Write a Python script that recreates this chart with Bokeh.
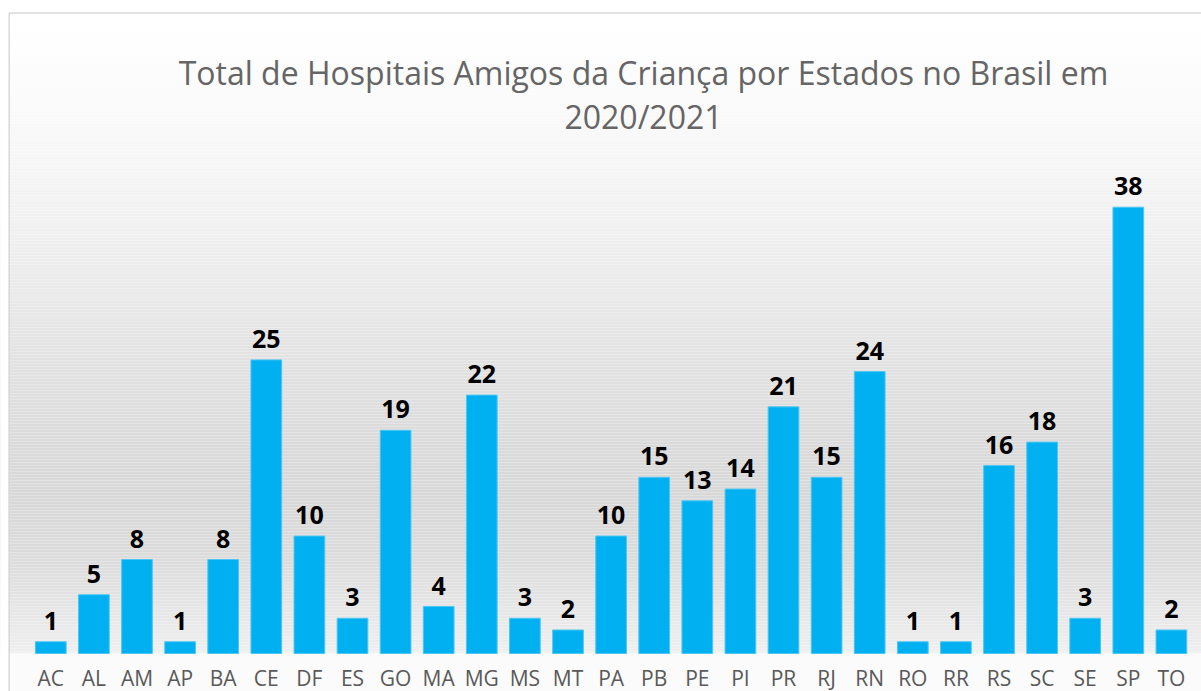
from bokeh.plotting import figure
from bokeh.models import Range1d, FixedTicker, LinearAxis, Label, ColumnDataSource
from bokeh.core.properties import value
from bokeh.embed import file_html
from bokeh.resources import INLINE
import numpy as np

# ---- data ----
states = ["AC", "AL", "AM", "AP", "BA", "CE", "DF", "ES", "GO", "MA", "MG", "MS", "MT",
          "PA", "PB", "PE", "PI", "PR", "RJ", "RN", "RO", "RR", "RS", "SC", "SE", "SP", "TO"]
hospitals = [1, 5, 8, 1, 8, 25, 10, 3, 19, 4, 22, 3, 2,
             10, 15, 13, 14, 21, 15, 24, 1, 1, 16, 18, 3, 38, 2]
title_line1 = "Total de Hospitais Amigos da Criança por Estados no Brasil em"
title_line2 = "2020/2021"

# ---- layout constants (pixels in figure space) ----
W, H = 1201, 691
step = 43.1          # px per category
x0 = 50.3            # px of first category centre
ppu = 11.745         # px per unit
base = 653.0         # px of value 0 (from top)

x_start = -x0 / step
x_end = x_start + W / step
y_end = base / ppu
y_start = -(H - base) / ppu

def ydata(fig_y):
    return (base - fig_y) / ppu

def xdata(fig_x):
    return (fig_x - x0) / step

p = figure(width=W, height=H, output_backend="svg", toolbar_location=None,
           x_range=Range1d(x_start, x_end), y_range=Range1d(y_start, y_end),
           min_border=0, min_border_left=0, min_border_right=0,
           min_border_top=0, min_border_bottom=0,
           x_axis_location=None, y_axis_location=None)
p.outline_line_color = None
p.xgrid.visible = False
p.ygrid.visible = False
p.background_fill_color = "#ffffff"
p.border_fill_color = "#ffffff"

# ---- background gradient (decoration) ----
stops_y = [0, 25, 150, 250, 350, 450, 500, 560, 620, 653]
stops_v = [255, 255, 247, 238, 227, 218, 216, 220, 232, 239]
ys = np.arange(0, base, 3.0)
tops, bots, cols = [], [], []
for yy in ys:
    g = int(round(np.interp(yy + 1.5, stops_y, stops_v)))
    tops.append(ydata(yy))
    bots.append(ydata(min(yy + 3.0, base)))
    cols.append("#%02x%02x%02x" % (g, g, g))
tops.append(ydata(base))
bots.append(ydata(H + 5))
cols.append("#fbfbfb")
p.quad(left=x_start - 1, right=x_end + 1, top=tops, bottom=bots,
       fill_color=cols, line_color=None)
# white area outside the chart border
p.quad(left=x_start - 1, right=x_end + 1, top=y_end + 1, bottom=ydata(12.0),
       fill_color="#ffffff", line_color=None)
p.quad(left=x_start - 1, right=xdata(8.0), top=y_end + 1, bottom=y_start - 1,
       fill_color="#ffffff", line_color=None)

# ---- chart border (decoration) ----
bx = xdata(8.7)
by = ydata(12.5)
p.line(x=[bx, bx, x_end + 1], y=[y_start - 1, by, by], line_color="#d9d9d9", line_width=1.5)

# ---- bars ----
idx = list(range(len(states)))
src = ColumnDataSource(dict(x=idx, top=hospitals, lab=[str(v) for v in hospitals]))
p.vbar(x="x", top="top", bottom=0, width=0.712, source=src,
       fill_color="#00b0f0", line_color="#4cc6f3", line_width=1)

p.text(x="x", y="top", text="lab", source=src, y_offset=-21,
       text_align="center", text_baseline="alphabetic",
       text_font=value("Open Sans"), text_font_style="bold",
       text_font_size="25px", text_color="#000000")

# ---- x axis ----
ax = LinearAxis(ticker=FixedTicker(ticks=idx),
                major_label_overrides={i: s for i, s in zip(idx, states)})
ax.fixed_location = 0
ax.axis_line_color = None
ax.major_tick_line_color = None
ax.minor_tick_line_color = None
ax.major_tick_out = 0
ax.major_tick_in = 0
ax.major_label_standoff = 10
ax.major_label_text_font = "Open Sans"
ax.major_label_text_font_size = "21px"
ax.major_label_text_color = "#595959"
p.add_layout(ax, "below")

# ---- title ----
tx = xdata(643.0)
for txt, fy in [(title_line1, 72.0), (title_line2, 116.0)]:
    p.add_layout(Label(x=tx, y=ydata(fy), text=txt, text_align="center",
                       text_baseline="alphabetic", text_font="Open Sans",
                       text_font_size="32px", text_color="#656565"))

open("out.html", "w").write(file_html(p, INLINE))
